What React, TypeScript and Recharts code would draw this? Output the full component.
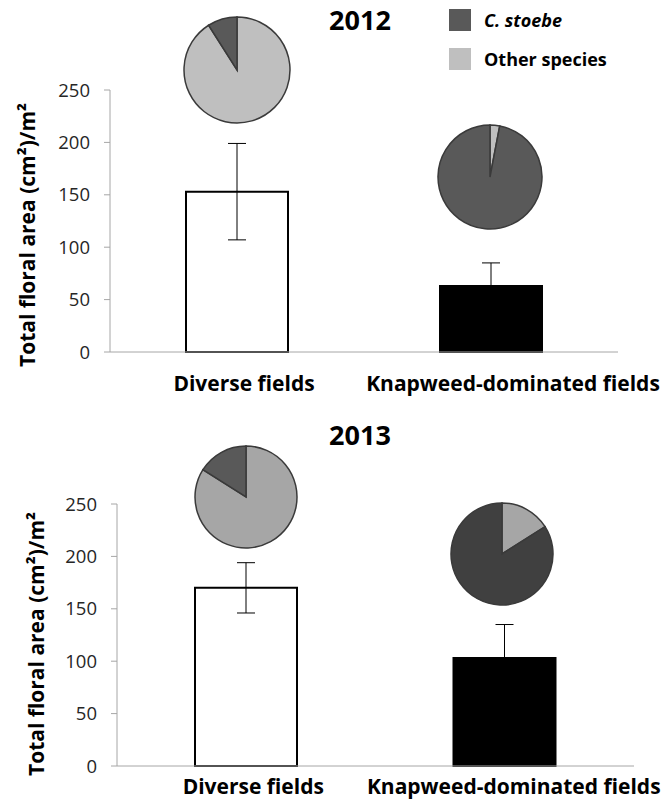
import { BarChart, Bar, XAxis, YAxis, ErrorBar, Cell, Label, PieChart, Pie } from 'recharts';

// --- data ---
const categories = ['Diverse fields', 'Knapweed-dominated fields'];
const yTicks = [0, 50, 100, 150, 200, 250];

const area2012 = [153, 63];
const err2012 = [46, 22];
const area2013 = [170, 103];
const err2013 = [24, 32];

// share of floral area in %, order: [Other species, C. stoebe]
const speciesNames = ['Other species', 'C. stoebe'];
const share2012Diverse = [91, 9];
const share2012Knapweed = [3, 97];
const share2013Diverse = [84, 16];
const share2013Knapweed = [16, 84];

const FONT = '"Open Sans", sans-serif';
const AXIS_GREY = '#a6a6a6';
const barFills = ['#ffffff', '#000000'];

const toRows = (values: number[], errs: number[]) =>
  categories.map((name, i) => ({ name, area: values[i], err: errs[i] }));

const toSlices = (shares: number[]) =>
  speciesNames.map((name, i) => ({ name, value: shares[i] }));

const CategoryTick = (props: any) => {
  const { x, payload, index, labelY, shifts } = props;
  return (
    <text
      x={x + shifts[index]}
      y={labelY}
      textAnchor="middle"
      dominantBaseline="central"
      fontFamily={FONT}
      fontWeight={700}
      fontSize={21}
      fill="#000"
    >
      {payload.value}
    </text>
  );
};

const FloralPie = ({ shares, colors, cx, cy, r }: any) => {
  const pad = 6;
  return (
    <div style={{ position: 'absolute', left: cx - r - pad, top: cy - r - pad }}>
      <PieChart width={2 * (r + pad)} height={2 * (r + pad)} margin={{ top: 0, right: 0, bottom: 0, left: 0 }}>
        <Pie
          data={toSlices(shares)}
          dataKey="value"
          cx={r + pad}
          cy={r + pad}
          outerRadius={r}
          startAngle={90}
          endAngle={-270}
          stroke="#3a3a3a"
          strokeWidth={1.5}
          isAnimationActive={false}
        >
          {colors.map((c: string, i: number) => (
            <Cell key={i} fill={c} />
          ))}
        </Pie>
      </PieChart>
    </div>
  );
};

const Panel = ({ top, height, rows, margin, axisWidth, labelY, shifts, yLabelX, yLabelY }: any) => (
  <div style={{ position: 'absolute', left: 0, top }}>
    <BarChart width={669} height={height} data={rows} margin={margin}>
      <XAxis
        dataKey="name"
        axisLine={{ stroke: AXIS_GREY }}
        tickLine={false}
        height={height - margin.top - margin.bottom - 262}
        interval={0}
        tick={<CategoryTick labelY={labelY} shifts={shifts} />}
      />
      <YAxis
        width={axisWidth}
        domain={[0, 250]}
        ticks={yTicks}
        interval={0}
        axisLine={{ stroke: AXIS_GREY }}
        tickLine={{ stroke: AXIS_GREY }}
        tickSize={6}
        tickMargin={14}
        tick={{ fontFamily: FONT, fontSize: 18.5, fill: '#262626' }}
      >
        <Label
          content={() => (
            <text
              x={yLabelX}
              y={yLabelY}
              transform={`rotate(-90, ${yLabelX}, ${yLabelY})`}
              textAnchor="middle"
              dominantBaseline="central"
              fontFamily={FONT}
              fontWeight={700}
              fontSize={21}
              textLength={264}
              lengthAdjust="spacingAndGlyphs"
              fill="#000"
            >
              Total floral area (cm²)/m²
            </text>
          )}
        />
      </YAxis>
      <Bar dataKey="area" barSize={102} isAnimationActive={false}>
        {rows.map((_: any, i: number) => (
          <Cell key={i} fill={barFills[i]} stroke="#000" strokeWidth={2} />
        ))}
        <ErrorBar dataKey="err" width={9} stroke="#000" strokeWidth={1} />
      </Bar>
    </BarChart>
  </div>
);

const titleStyle = (top: number): React.CSSProperties => ({
  position: 'absolute',
  left: 300,
  width: 120,
  top,
  textAlign: 'center',
  fontFamily: FONT,
  fontWeight: 700,
  fontSize: 27,
  lineHeight: '30px',
  color: '#000',
});

const legendText: React.CSSProperties = {
  position: 'absolute',
  left: 484,
  fontFamily: FONT,
  fontWeight: 700,
  fontSize: 18,
  lineHeight: '22px',
  color: '#000',
};

export default function App() {
  return (
    <div style={{ position: 'absolute', left: 0, top: 0, width: 669, height: 799, background: '#fff', overflow: 'hidden' }}>
      <Panel
        top={0}
        height={400}
        rows={toRows(area2012, err2012)}
        margin={{ top: 90, right: 51, bottom: 8, left: 0 }}
        axisWidth={110}
        labelY={383}
        shifts={[7, 22]}
        yLabelX={27}
        yLabelY={235}
      />
      <Panel
        top={400}
        height={399}
        rows={toRows(area2013, err2013)}
        margin={{ top: 104, right: 35, bottom: 0, left: 0 }}
        axisWidth={117}
        labelY={386}
        shifts={[7, 9]}
        yLabelX={36}
        yLabelY={244}
      />

      <div style={titleStyle(5)}>2012</div>
      <div style={titleStyle(420)}>2013</div>

      <div style={{ position: 'absolute', left: 449, top: 9, width: 22, height: 22, background: '#595959' }} />
      <div style={{ ...legendText, top: 9, fontStyle: 'italic' }}>C. stoebe</div>
      <div style={{ position: 'absolute', left: 449, top: 48, width: 22, height: 22, background: '#bfbfbf' }} />
      <div style={{ ...legendText, top: 48 }}>Other species</div>

      <FloralPie shares={share2012Diverse} colors={['#bfbfbf', '#595959']} cx={237} cy={70} r={53} />
      <FloralPie shares={share2012Knapweed} colors={['#bfbfbf', '#595959']} cx={490} cy={177} r={52} />
      <FloralPie shares={share2013Diverse} colors={['#a6a6a6', '#595959']} cx={246} cy={497} r={51} />
      <FloralPie shares={share2013Knapweed} colors={['#a6a6a6', '#404040']} cx={502} cy={554} r={51} />
    </div>
  );
}
